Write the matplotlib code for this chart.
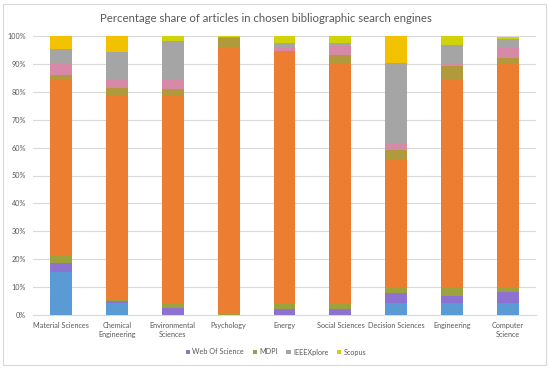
import matplotlib
matplotlib.use("Agg")
import matplotlib.pyplot as plt
from matplotlib.patches import Rectangle, Patch
import numpy as np

plt.rcParams['font.family'] = ['Lato', 'DejaVu Sans']

categories = ["Material Sciences", "Chemical\nEngineering", "Environmental\nSciences",
              "Psychology", "Energy", "Social Sciences", "Decision Sciences",
              "Engineering", "Computer\nScience"]

# segment shares (%), bottom to top
seg_blue    = [15.5, 4.2, 0.0, 0.0, 0.0, 0.0, 4.2, 4.2, 4.2]
web_of_sci  = [3.0, 0.8, 2.4, 0.0, 2.0, 2.0, 3.8, 2.6, 4.1]
mdpi        = [2.5, 0.5, 1.4, 0.5, 2.2, 2.2, 1.9, 3.1, 1.5]
seg_orange  = [63.2, 73.1, 74.8, 95.5, 90.5, 86.0, 45.7, 74.3, 80.4]
seg_olive2  = [1.8, 2.6, 2.4, 3.3, 0.0, 3.0, 3.5, 5.0, 1.8]
seg_pink    = [4.2, 3.0, 3.2, 0.2, 1.5, 3.2, 2.2, 1.0, 3.6]
ieeexplore  = [5.0, 10.2, 14.1, 0.0, 1.2, 1.2, 28.9, 6.6, 3.2]
scopus      = [0.0, 0.0, 1.7, 0.5, 2.6, 2.4, 0.0, 3.2, 0.8]
seg_gold    = [4.8, 5.6, 0.0, 0.0, 0.0, 0.0, 9.8, 0.0, 0.0]

series = [
    (seg_blue, "#5B9BD5", None),
    (web_of_sci, "#8E72D2", "Web Of Science"),
    (mdpi, "#9CA33C", "MDPI"),
    (seg_orange, "#ED7D31", None),
    (seg_olive2, "#B09A3C", None),
    (seg_pink, "#D68AA8", None),
    (ieeexplore, "#A5A5A5", "IEEEXplore"),
    (scopus, "#D2D20A", "Scopus"),
    (seg_gold, "#F2C200", None),
]

fig = plt.figure(figsize=(5.5, 3.69), dpi=100)
fig.patches.append(Rectangle((3/550, 4/369), 543/550, 361/369, transform=fig.transFigure,
                             fill=False, edgecolor="#D9D9D9", linewidth=0.8))
ax = fig.add_axes([33/550, 54/369, 503/550, 279/369])

x = np.arange(len(categories))
bottom = np.zeros(len(categories))
handles = []
for vals, color, name in series:
    v = np.array(vals, dtype=float)
    ax.bar(x, v, bottom=bottom, width=0.39, color=color, linewidth=0, zorder=3)
    bottom += v
    if name:
        handles.append(Patch(facecolor=color, label=name))

ax.set_xlim(-0.5, len(categories) - 0.5)
ax.set_ylim(0, 100)
ax.set_yticks(np.arange(0, 101, 10))
ax.set_yticklabels([f"{t}%" for t in range(0, 101, 10)])
ax.set_xticks(x)
ax.set_xticklabels(categories, linespacing=1.35)
ax.tick_params(axis='both', length=0, labelsize=5.2, colors="#595959")
ax.tick_params(axis='x', pad=5)
ax.tick_params(axis='y', pad=5)
ax.grid(axis='y', color="#D9D9D9", linewidth=0.8, zorder=0)
for s in ["top", "right", "left"]:
    ax.spines[s].set_visible(False)
ax.spines["bottom"].set_color("#D9D9D9")
ax.spines["bottom"].set_linewidth(0.8)

fig.text(266/550, 1 - 19/369, "Percentage share of articles in chosen bibliographic search engines",
         ha="center", va="center", fontsize=8.2, color="#595959")

fig.legend(handles=handles, loc="center", bbox_to_anchor=(276/550, 1 - 352/369), ncol=4,
           frameon=False, fontsize=5.2, handlelength=0.6, handleheight=0.6,
           handletextpad=0.3, columnspacing=1.2, labelcolor="#595959")

fig.savefig("out.png", dpi=100)
